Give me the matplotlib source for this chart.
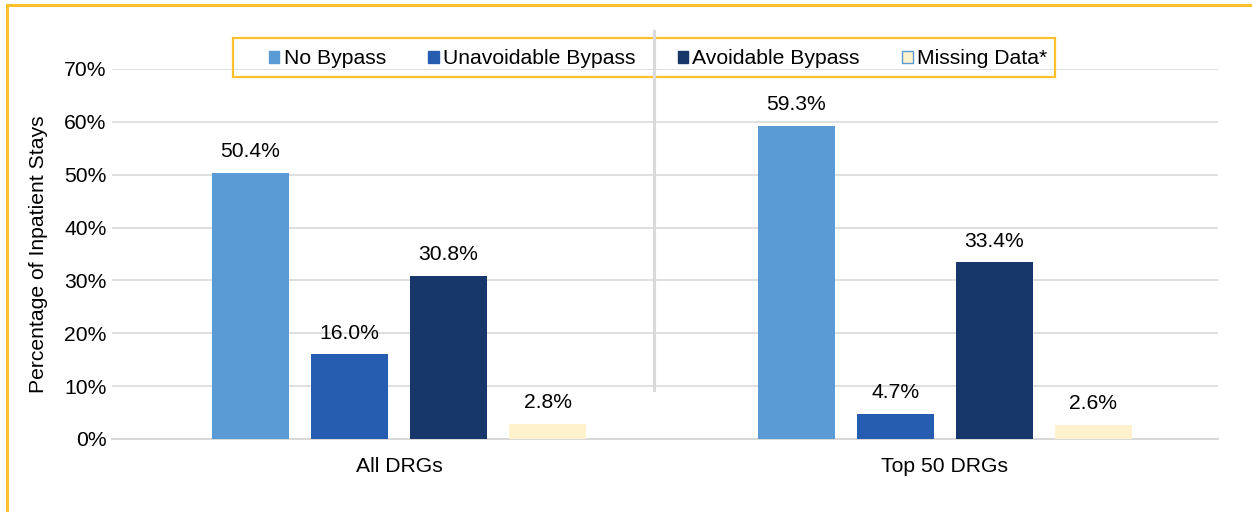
import matplotlib.pyplot as plt
import matplotlib.patches as mpatches
from matplotlib.lines import Line2D
import numpy as np

plt.rcParams['font.family'] = ['Liberation Sans', 'DejaVu Sans']

categories = ['All DRGs', 'Top 50 DRGs']
series = ['No Bypass', 'Unavoidable Bypass', 'Avoidable Bypass', 'Missing Data*']
no_bypass = [50.4, 59.3]
unavoidable = [16.0, 4.7]
avoidable = [30.8, 33.4]
missing = [2.8, 2.6]
colors = ['#5B9BD5', '#265DB0', '#17376A', '#FFF2CC']
yticks = [0, 10, 20, 30, 40, 50, 60, 70]

values = [no_bypass, unavoidable, avoidable, missing]

fig = plt.figure(figsize=(12.52, 5.12), dpi=100)
ax = fig.add_axes([112/1252, 1-439/512, 1106/1252, 370/512])

x = np.arange(len(categories))
width = 0.141
step = 0.1815
fs = 15.2

for i, vals in enumerate(values):
    pos = x + (i - 1.5) * step
    ax.bar(pos, vals, width, color=colors[i], zorder=3)
    for p, v in zip(pos, vals):
        ax.annotate(f'{v:.1f}%', (p, v), xytext=(0, 8.5), textcoords='offset points',
                    ha='center', va='bottom', fontsize=fs, color='#000000')

ax.set_xlim(-0.526, 1.501)
ax.set_ylim(0, 70)
ax.set_yticks(yticks)
ax.set_yticklabels([f'{t}%' for t in yticks])
ax.set_xticks(x)
ax.set_xticklabels(categories)
ax.tick_params(axis='both', length=0, labelsize=fs, colors='#000000')
ax.tick_params(axis='x', pad=13)
ax.tick_params(axis='y', pad=4)
ax.grid(axis='y', color='#D9D9D9', lw=1.2, zorder=0)
for s in ['top', 'right', 'left']:
    ax.spines[s].set_visible(False)
ax.spines['bottom'].set_color('#D9D9D9')
ax.spines['bottom'].set_linewidth(1.5)

ax.set_ylabel('Percentage of Inpatient Stays', fontsize=fs)
ax.yaxis.set_label_coords(-0.058, 0.5)

# separator between the two groups
sep = Line2D([653.5/1252, 653.5/1252], [1-390/512, 1-31/512], transform=fig.transFigure,
             color='#D9D9D9', lw=2.2, zorder=10)
fig.lines.append(sep)

# legend box
box = mpatches.Rectangle((233/1252, 1-77/512), 822/1252, 39/512, transform=fig.transFigure,
                         facecolor='none', edgecolor='#FFC12B', lw=1.6, zorder=6)
fig.patches.append(box)

handles = [mpatches.Patch(facecolor=c, edgecolor=c, label=s) for c, s in zip(colors, series)]
handles[3].set_edgecolor('#5B9BD5')
leg = fig.legend(handles=handles, loc='center', ncol=4,
                 bbox_to_anchor=(658/1252, 1-59/512),
                 fontsize=fs, handlelength=0.5, handleheight=0.5, handletextpad=0.2,
                 columnspacing=2.0, frameon=False, borderaxespad=0, borderpad=0)

# outer frame
frame = mpatches.Rectangle((7/1252, -0.1), 1.2, 1.1 - 5/512, transform=fig.transFigure,
                           fill=False, edgecolor='#FFC12B', lw=2.2)
fig.patches.append(frame)

fig.savefig('out.png', dpi=100)
